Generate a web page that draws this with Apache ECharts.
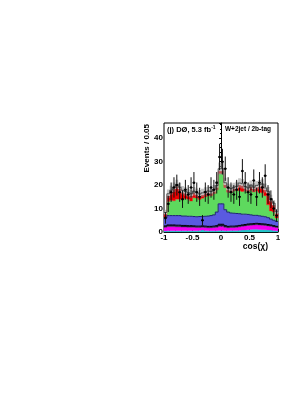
<!DOCTYPE html>
<html><head><meta charset="utf-8">
<script src="https://cdn.jsdelivr.net/npm/echarts@6/dist/echarts.min.js"></script>
<style>html,body{margin:0;padding:0;background:#fff;}#c{width:305px;height:394px;}</style>
</head><body><div id="c"></div>
<script>
// 40 bins of width 0.05 from -1 to 1
const binLow = -1, binWidth = 0.05, nBins = 40;
const xTicks = [-1, -0.5, 0, 0.5, 1];
const yTicks = [0, 10, 20, 30, 40];
// background components (events per bin), bottom to top
const cyanBkg = [0.4,0.5,0.5,0.5,0.5,0.5,0.5,0.5,0.5,0.5,0.5,0.5,0.6,0.8,0.6,0.5,0.5,0.5,0.5,0.6,0.6,0.5,0.5,0.6,0.6,0.6,0.7,0.8,0.9,1.0,1.1,1.2,1.2,1.1,1.0,1.0,0.9,0.8,0.6,0.5];
const magentaBkg = [1.6,1.8,1.8,1.8,1.7,1.7,1.6,1.6,1.5,1.5,1.5,1.4,1.3,1.2,1.3,1.3,1.3,1.4,1.5,1.8,1.8,1.5,1.3,1.3,1.3,1.4,1.5,1.6,1.7,1.8,1.8,1.8,1.9,1.9,1.9,1.8,1.7,1.6,1.5,1.4];
const darkBkg = [0.6,0.7,0.7,0.7,0.7,0.7,0.7,0.7,0.7,0.7,0.6,0.6,0.6,0.6,0.6,0.6,0.6,0.6,0.7,0.9,0.9,0.7,0.6,0.6,0.6,0.6,0.6,0.6,0.6,0.6,0.6,0.6,0.6,0.6,0.6,0.6,0.6,0.6,0.6,0.5];
const blueBkg = [3.4,4.0,4.0,4.0,4.1,4.1,4.0,4.0,4.0,4.0,4.0,4.0,4.1,4.0,4.2,4.4,4.6,4.8,5.8,8.7,8.7,6.8,6.1,5.6,5.5,5.3,5.0,4.6,4.4,4.1,3.8,3.5,3.4,3.3,3.2,3.1,2.9,2.5,2.3,2.1];
const greenBkg = [0.2,6.0,6.5,6.3,7.0,7.0,7.0,7.5,7.3,6.5,8.0,8.0,7.3,7.8,8.3,8.7,8.5,9.0,9.5,13.0,13.0,9.5,8.5,8.8,9.5,10.0,9.8,9.7,10.0,9.8,10.5,10.0,10.5,10.0,10.0,9.0,5.5,3.5,3.5,1.5];
const redBkg = [1.6,2.5,3.5,5.0,5.5,4.3,3.2,2.2,2.0,2.3,2.0,1.5,1.5,1.5,1.5,1.2,1.0,1.0,1.0,1.0,1.0,1.2,1.0,0.8,0.8,0.8,2.5,2.5,1.0,0.7,1.5,1.2,1.5,2.5,3.0,2.5,5.0,4.5,3.0,2.0];
const whiteBkg = [0.5,0.8,0.8,0.8,0.8,0.8,0.8,0.8,0.8,0.8,0.8,0.8,0.8,0.8,0.8,0.8,0.8,0.8,0.8,1.0,1.0,0.8,0.8,0.8,0.8,0.8,0.8,0.8,0.8,0.8,0.8,0.8,0.8,0.8,0.8,0.8,0.8,0.8,0.8,0.6];
const bkgUncert = [1.2,1.8,1.9,2.0,2.0,1.9,1.8,1.8,1.8,1.7,1.8,1.8,1.7,1.7,1.8,1.8,1.8,1.9,2.0,2.6,2.6,2.1,1.9,1.8,1.9,1.9,2.0,2.0,1.9,1.9,1.9,1.9,1.9,2.0,2.0,1.9,1.8,1.6,1.4,1.1];
const dataCounts = [6,12,17,19,20,17,14,18,16,19,21,17,15,5,17,16,19,18,21,32,30,27,19,17,16,18,15,26,21,17,16,22,15,21,19,24,16,14,10,7];

const layers = [
  {vals: cyanBkg, color: '#21c7c7'},
  {vals: magentaBkg, color: '#f200f2'},
  {vals: darkBkg, color: '#1a1a33'},
  {vals: blueBkg, color: '#5a5ae0'},
  {vals: greenBkg, color: '#5ed95e'},
  {vals: redBkg, color: '#ea0000'},
  {vals: whiteBkg, color: '#ffffff'}
];
const edges = [];
for (let i = 0; i <= nBins; i++) edges.push(+(binLow + i * binWidth).toFixed(4));

function stepPolygon(api, bottoms, tops) {
  const pts = [];
  for (let i = 0; i < nBins; i++) {
    pts.push(api.coord([edges[i], tops[i]]));
    pts.push(api.coord([edges[i + 1], tops[i]]));
  }
  for (let i = nBins - 1; i >= 0; i--) {
    pts.push(api.coord([edges[i + 1], bottoms[i]]));
    pts.push(api.coord([edges[i], bottoms[i]]));
  }
  return pts;
}
function stepLine(api, tops) {
  const pts = [];
  for (let i = 0; i < nBins; i++) {
    pts.push(api.coord([edges[i], tops[i]]));
    pts.push(api.coord([edges[i + 1], tops[i]]));
  }
  return pts;
}

const series = [];
let cum = new Array(nBins).fill(0);
const layerTops = [];
layers.forEach(L => {
  const bottoms = cum.slice();
  const tops = cum.map((c, i) => c + L.vals[i]);
  layerTops.push(tops);
  cum = tops;
  series.push({
    type: 'custom', silent: true, data: [[-1, 0]],
    renderItem: (p, api) => ({type: 'polygon', shape: {points: stepPolygon(api, bottoms, tops)}, style: {fill: L.color, stroke: L.color, lineWidth: 0.3}})
  });
});
const total = cum;
// uncertainty band
const uLow = total.map((t, i) => t - bkgUncert[i]);
const uHigh = total.map((t, i) => t + bkgUncert[i]);
series.push({
  type: 'custom', silent: true, data: [[-1, 0]],
  renderItem: (p, api) => ({type: 'polygon', shape: {points: stepPolygon(api, uLow, uHigh)}, style: {fill: 'rgba(150,150,150,0.55)'}})
});
// outlines
const outlineDefs = [[2, '#000000', 1], [3, '#20207a', 1], [6, '#333333', 0.8]];
outlineDefs.forEach(([li, col, lw]) => {
  series.push({
    type: 'custom', silent: true, data: [[-1, 0]],
    renderItem: (p, api) => ({type: 'polyline', shape: {points: stepLine(api, layerTops[li])}, style: {stroke: col, lineWidth: lw, fill: null}})
  });
});
// data points
const dataItems = dataCounts.map((n, i) => [edges[i] + binWidth / 2, n]);
series.push({
  type: 'custom', silent: true, data: dataItems,
  renderItem: (p, api) => {
    const x = api.value(0), n = api.value(1), e = Math.sqrt(n);
    const c = api.coord([x, n]);
    const lo = api.coord([x, Math.max(0, n - e)]);
    const hi = api.coord([x, n + e]);
    const l = api.coord([x - binWidth / 2, n]);
    const r = api.coord([x + binWidth / 2, n]);
    return {type: 'group', children: [
      {type: 'line', shape: {x1: c[0], y1: lo[1], x2: c[0], y2: hi[1]}, style: {stroke: '#111', lineWidth: 1}},
      {type: 'line', shape: {x1: l[0], y1: c[1], x2: r[0], y2: c[1]}, style: {stroke: '#111', lineWidth: 1}},
      {type: 'circle', shape: {cx: c[0], cy: c[1], r: 1.2}, style: {fill: '#000'}}
    ]};
  }
});

const chart = echarts.init(document.getElementById('c'), null, {renderer: 'canvas'});
const lblFont = {fontFamily: 'Liberation Sans', fontWeight: 'bold', fontSize: 8, color: '#000'};
chart.setOption({
  animation: false,
  grid: {left: 164, right: 27, top: 123, bottom: 162, show: true, borderColor: '#000', borderWidth: 1, backgroundColor: 'transparent'},
  xAxis: {
    type: 'value', min: xTicks[0], max: xTicks[xTicks.length - 1], interval: 0.5,
    axisLine: {lineStyle: {color: '#000', width: 1}},
    axisTick: {inside: true, length: 3, lineStyle: {color: '#000'}},
    minorTick: {show: true, splitNumber: 5, length: 1.5, lineStyle: {color: '#000'}},
    splitLine: {show: false},
    axisLabel: Object.assign({margin: 2, formatter: v => String(v)}, lblFont),
    name: 'cos(χ)', nameLocation: 'end', nameGap: -10,
    nameTextStyle: {fontFamily: 'Liberation Sans', fontWeight: 'bold', fontSize: 8.5, color: '#000', align: 'right', verticalAlign: 'top', padding: [10, 0, 0, 0]}
  },
  yAxis: {
    type: 'value', min: yTicks[0], max: 46.5, interval: 10,
    axisLine: {lineStyle: {color: '#000', width: 1}},
    axisTick: {inside: false, length: 2, lineStyle: {color: '#000'}},
    minorTick: {show: true, splitNumber: 5, length: 1, lineStyle: {color: '#000'}},
    splitLine: {show: false},
    axisLabel: Object.assign({margin: 1, showMaxLabel: false, formatter: v => (yTicks.indexOf(v) >= 0 ? String(v) : '')}, lblFont)
  },
  graphic: [
    {type: 'text', x: 147, y: 124, rotation: Math.PI / 2, silent: true,
     style: {text: 'Events / 0.05', align: 'right', verticalAlign: 'middle', font: 'bold 8px "Liberation Sans"', fill: '#000'}},
    {type: 'text', x: 167, y: 130, silent: true,
     style: {text: '{a|(j) DØ, 5.3 fb}{s|-1}', verticalAlign: 'middle',
       rich: {a: {font: 'bold 7.5px "Liberation Sans"', fill: '#000', fontFamily: 'Liberation Sans', fontWeight: 'bold', fontSize: 7.5},
              s: {fontFamily: 'Liberation Sans', fontWeight: 'bold', fontSize: 5, verticalAlign: 'top', padding: [0, 0, 4, 0]}}}},
    {type: 'text', x: 271, y: 129, silent: true,
     style: {text: 'W+2jet / 2b-tag', align: 'right', verticalAlign: 'middle', font: 'bold 6.5px "Liberation Sans"', fill: '#000'}}
  ],
  series: series
});
</script>
</body></html>
